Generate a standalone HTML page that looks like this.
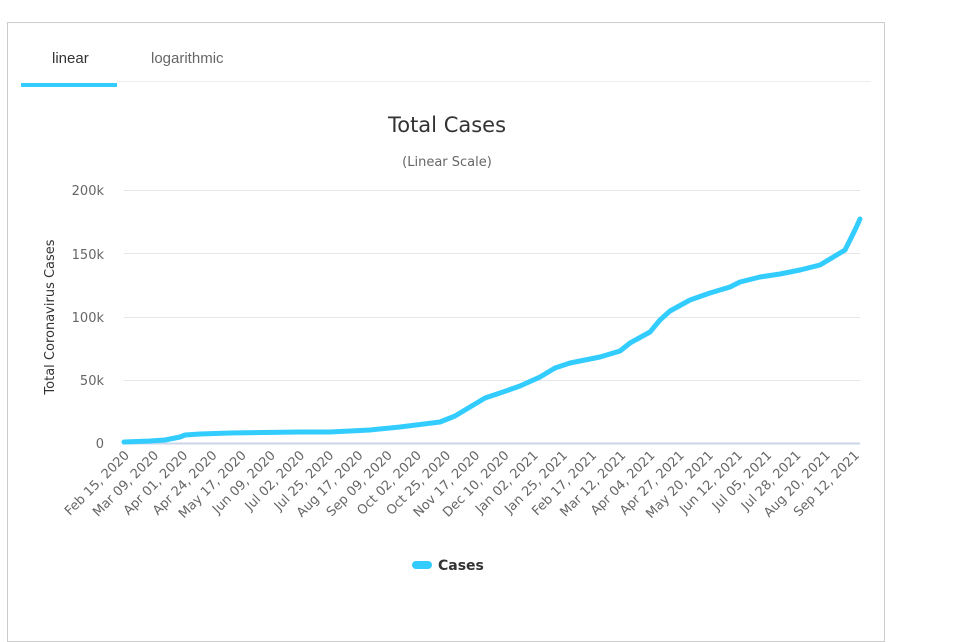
<!DOCTYPE html>
<html><head><meta charset="utf-8"><style>
body{margin:0;background:#fff;font-family:"DejaVu Sans","Liberation Sans",sans-serif;overflow:hidden;}
.box{position:absolute;left:7px;top:22px;width:878px;height:620px;border:1px solid #ccc;box-sizing:border-box;}
.tab{position:absolute;top:50px;font-family:"Liberation Sans",sans-serif;font-size:15px;}
</style></head><body>
<div class="box"></div>
<div class="tab" style="left:52px;color:#333">linear</div>
<div class="tab" style="left:151px;color:#666">logarithmic</div>
<div style="position:absolute;left:21px;top:83px;width:96px;height:4px;background:#33ccff"></div>
<div style="position:absolute;left:117px;top:81px;width:754px;height:1px;background:#eee"></div>
<svg width="957" height="612" style="position:absolute;left:0;top:0" font-family="DejaVu Sans, sans-serif">
<text x="447" y="132" text-anchor="middle" font-size="21" fill="#333">Total Cases</text>
<text x="447" y="166" text-anchor="middle" font-size="13" fill="#666">(Linear Scale)</text>
<g stroke="#e6e6e6" stroke-width="1">
<line x1="124" x2="860" y1="190.5" y2="190.5"/><line x1="124" x2="860" y1="253.5" y2="253.5"/>
<line x1="124" x2="860" y1="317.5" y2="317.5"/><line x1="124" x2="860" y1="380.5" y2="380.5"/>
</g>
<line x1="124" x2="860" y1="443.5" y2="443.5" stroke="#ccd6eb" stroke-width="2"/>
<g font-size="13" fill="#666" text-anchor="end">
<text x="104" y="195">200k</text><text x="104" y="259">150k</text><text x="104" y="322">100k</text>
<text x="104" y="385">50k</text><text x="104" y="448">0</text></g>
<text transform="translate(54,317) rotate(-90)" text-anchor="middle" font-size="13" fill="#333">Total Coronavirus Cases</text>
<path d="M124,442 L150,441 L165,440 L180,437 L185,435 L200,434 L230,433 L300,432 L330,432 L370,430 L400,427 L440,422 L455,416 L470,407 L485,398 L500,393 L520,386 L540,377 L555,368 L570,363 L600,357 L620,351 L630,343 L650,332 L660,320 L670,311 L690,300 L710,293 L730,287 L740,282 L760,277 L780,274 L800,270 L820,265 L830,259 L845,250 L855,230 L860,219" fill="none" stroke="#33ccff" stroke-width="5" stroke-linejoin="round" stroke-linecap="round"/>
<g font-size="13" fill="#666" text-anchor="end" id="xl"></g>
<rect x="412" y="561" width="20" height="8" rx="4" fill="#33ccff"/>
<text x="438" y="570" font-size="14" font-weight="bold" fill="#333">Cases</text>
</svg>
<script>
var L=["Feb 15, 2020","Mar 09, 2020","Apr 01, 2020","Apr 24, 2020","May 17, 2020","Jun 09, 2020","Jul 02, 2020","Jul 25, 2020","Aug 17, 2020","Sep 09, 2020","Oct 02, 2020","Oct 25, 2020","Nov 17, 2020","Dec 10, 2020","Jan 02, 2021","Jan 25, 2021","Feb 17, 2021","Mar 12, 2021","Apr 04, 2021","Apr 27, 2021","May 20, 2021","Jun 12, 2021","Jul 05, 2021","Jul 28, 2021","Aug 20, 2021","Sep 12, 2021"];
var g=document.getElementById("xl"),s="";
for(var i=0;i<L.length;i++){var x=130+i*29.2,y=456;
s+='<text transform="translate('+x+','+y+') rotate(-45)">'+L[i]+'</text>';}
g.innerHTML=s;
</script>
</body></html>
